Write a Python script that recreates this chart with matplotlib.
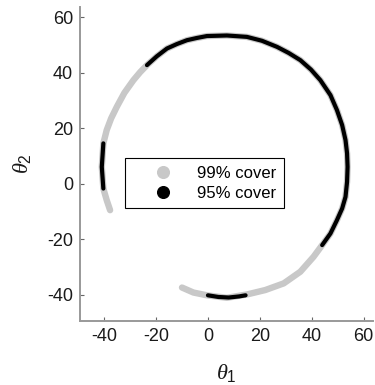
import matplotlib.pyplot as plt
from matplotlib.lines import Line2D

plt.rcParams['font.family'] = ['Liberation Sans', 'DejaVu Sans']
plt.rcParams['mathtext.fontset'] = 'custom'
plt.rcParams['mathtext.it'] = 'Liberation Serif:italic'
plt.rcParams['mathtext.rm'] = 'Liberation Sans'
plt.rcParams['axes.unicode_minus'] = False

# 99% cover region (grey band), walking counter-clockwise
cover99_x = [-10, -5.6, -0.4, 7.3, 15, 22.1, 29.2, 35.6, 40.7, 44, 47.2, 49.7,
             51.7, 53, 53.6, 53.8, 53.6, 53, 51.7, 49.7, 47.2, 43.3, 39.7, 35.6,
             31.1, 26.6, 20.8, 15, 7.3, -0.4, -4.3, -8.1, -12, -15.8, -19.7, -23.5,
             -26.1, -28.7, -32.2, -35.1, -37.3, -39, -40.3, -40.9, -40.3, -39, -37.7]
cover99_y = [-37.4, -39.2, -40.2, -41.1, -39.9, -38.3, -35.9, -31.7, -26.3, -22.1,
             -17.9, -13.1, -8.9, -4.7, 0.7, 6.1, 11, 15.8, 21.2, 26.6, 32, 37.4,
             41.2, 44.6, 47.2, 49.4, 51.6, 53, 53.5, 53.3, 52.6, 51.8, 50.4, 48.8,
             46, 42.8, 40.3, 37.4, 32.8, 27.8, 23.6, 19.4, 14.6, 6.1, -1.7, -5.9,
             -9.5]

# 95% cover region (black pieces)
cover95_bottom_x = [0, 4, 8, 12, 14.5]
cover95_bottom_y = [-40.2, -40.8, -41, -40.6, -40.2]
cover95_main_x = [44, 47.2, 49.7, 51.7, 53, 53.6, 53.8, 53.6, 53, 51.7, 49.7,
                  47.2, 43.3, 39.7, 35.6, 31.1, 26.6, 20.8, 15, 7.3, -0.4, -4.3,
                  -8.1, -12, -15.8, -19.7, -23.5]
cover95_main_y = [-22.1, -17.9, -13.1, -8.9, -4.7, 0.7, 6.1, 11, 15.8, 21.2,
                  26.6, 32, 37.4, 41.2, 44.6, 47.2, 49.4, 51.6, 53, 53.5, 53.3,
                  52.6, 51.8, 50.4, 48.8, 46, 42.8]
cover95_left_x = [-40.3, -40.9, -40.3]
cover95_left_y = [14.6, 6.1, -1.7]

grey = '#c8c8c8'

fig = plt.figure(figsize=(3.75, 3.85), dpi=100)
ax = fig.add_axes([0.2133, 0.166, 0.7814, 0.816])

ax.plot(cover99_x, cover99_y, color=grey, lw=4.6, solid_capstyle='round',
        solid_joinstyle='round')
for xs, ys in [(cover95_bottom_x, cover95_bottom_y),
               (cover95_main_x, cover95_main_y),
               (cover95_left_x, cover95_left_y)]:
    ax.plot(xs, ys, color='black', lw=3.0, solid_capstyle='round',
            solid_joinstyle='round')

ax.set_xlim(-49.3, 63.6)
ax.set_ylim(-49.5, 63.8)
ax.set_xticks([-40, -20, 0, 20, 40, 60])
ax.set_yticks([-40, -20, 0, 20, 40, 60])

for side in ['top', 'right']:
    ax.spines[side].set_visible(False)
for side in ['left', 'bottom']:
    ax.spines[side].set_color('#999999')
    ax.spines[side].set_linewidth(1.4)
ax.tick_params(direction='in', length=3, width=0.8, color='#666666',
               labelsize=13, labelcolor='#1a1a1a', pad=5)

ax.set_xlabel(r'$\theta_1$', fontsize=16, labelpad=12, color='#1a1a1a')
ax.set_ylabel(r'$\theta_2$', fontsize=16, labelpad=10, color='#1a1a1a')

handles = [Line2D([], [], ls='none', marker='o', ms=8.4, color=grey),
           Line2D([], [], ls='none', marker='o', ms=8.4, color='black')]
leg = ax.legend(handles, ['99% cover', '95% cover'], loc='upper left',
                bbox_to_anchor=(0.155, 0.518), borderaxespad=0, fontsize=12,
                handlelength=3.6, handletextpad=0.25, borderpad=0.45,
                labelspacing=0.28, fancybox=False, framealpha=1,
                edgecolor='black')
leg.get_frame().set_linewidth(0.8)

fig.savefig('out.png', dpi=100)
